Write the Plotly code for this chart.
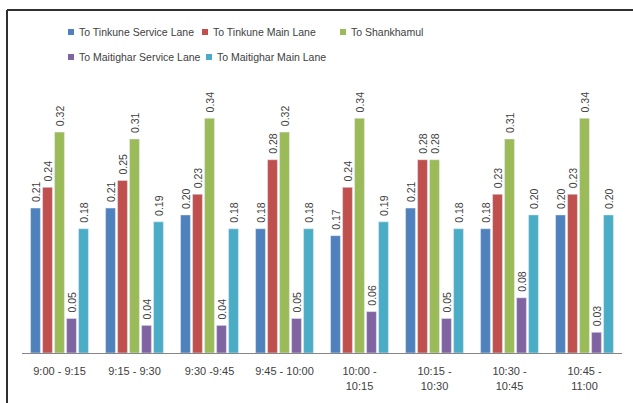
import plotly.graph_objects as go

periods = ["9:00 - 9:15", "9:15 - 9:30", "9:30 -9:45", "9:45 - 10:00",
           "10:00 -<br>10:15", "10:15 -<br>10:30", "10:30 -<br>10:45", "10:45 -<br>11:00"]

tinkune_service = [0.21, 0.21, 0.20, 0.18, 0.17, 0.21, 0.18, 0.20]
tinkune_main = [0.24, 0.25, 0.23, 0.28, 0.24, 0.28, 0.23, 0.23]
shankhamul = [0.32, 0.31, 0.34, 0.32, 0.34, 0.28, 0.31, 0.34]
maitighar_service = [0.05, 0.04, 0.04, 0.05, 0.06, 0.05, 0.08, 0.03]
maitighar_main = [0.18, 0.19, 0.18, 0.18, 0.19, 0.18, 0.20, 0.20]

series_names = ["To Tinkune Service Lane", "To Tinkune Main Lane", "To Shankhamul",
                "To Maitighar Service Lane", "To Maitighar Main Lane"]
series_values = [tinkune_service, tinkune_main, shankhamul, maitighar_service, maitighar_main]
series_colors = ["#4F81BD", "#C0504D", "#9BBB59", "#8064A2", "#4BACC6"]

FONT = "Liberation Sans"
TXT = "#404040"

W, H = 633, 403
ML, MR, MT, MB = 22, 11, 70, 50
PW, PH = W - ML - MR, H - MT - MB


def px_x(x):
    return (x - ML) / PW


def px_y(y):
    return (H - MB - y) / PH


fig = go.Figure()
for name, vals, color in zip(series_names, series_values, series_colors):
    fig.add_trace(go.Bar(
        x=periods, y=vals, name=name, marker_color=color,
        text=[f"\u00a0{v:.2f}" for v in vals], textposition="outside",
        textangle=-90, constraintext="none", cliponaxis=False,
        textfont=dict(family=FONT, size=10.5, color=TXT),
        showlegend=False,
    ))

# legend keys laid out in two rows, like the original chart
legend_slots = [(68, 32), (202, 32), (340, 32), (68, 57), (206, 57)]
shapes = []
annotations = []
for (lx, ly), name, color in zip(legend_slots, series_names, series_colors):
    shapes.append(dict(type="rect", xref="paper", yref="paper",
                       x0=px_x(lx), x1=px_x(lx + 6), y0=px_y(ly - 3), y1=px_y(ly + 3),
                       fillcolor=color, line=dict(width=0)))
    annotations.append(dict(xref="paper", yref="paper", x=px_x(lx + 9), y=px_y(ly),
                            xanchor="left", yanchor="middle", text=name, showarrow=False,
                            font=dict(family=FONT, size=10.5, color=TXT)))

# chart frame (top and left edges)
shapes += [
    dict(type="line", xref="paper", yref="paper",
         x0=px_x(7), x1=px_x(640), y0=px_y(10), y1=px_y(10),
         line=dict(color="#303030", width=2)),
    dict(type="line", xref="paper", yref="paper",
         x0=px_x(7), x1=px_x(7), y0=px_y(10), y1=px_y(410),
         line=dict(color="#303030", width=2)),
]

fig.update_layout(
    width=W, height=H,
    margin=dict(l=ML, r=MR, t=MT, b=MB),
    paper_bgcolor="white", plot_bgcolor="white",
    barmode="group", bargap=0.2, bargroupgap=0.18,
    font=dict(family=FONT, size=10, color=TXT),
    showlegend=False,
    xaxis=dict(
        showline=True, linecolor="#868686", linewidth=1,
        ticks="outside", ticklen=8, tickcolor="rgba(0,0,0,0)", showgrid=False,
        tickfont=dict(family=FONT, size=11, color=TXT),
    ),
    yaxis=dict(range=[0, 0.41], visible=False, showgrid=False),
    shapes=shapes,
    annotations=annotations,
)

fig.write_html("out.html")
